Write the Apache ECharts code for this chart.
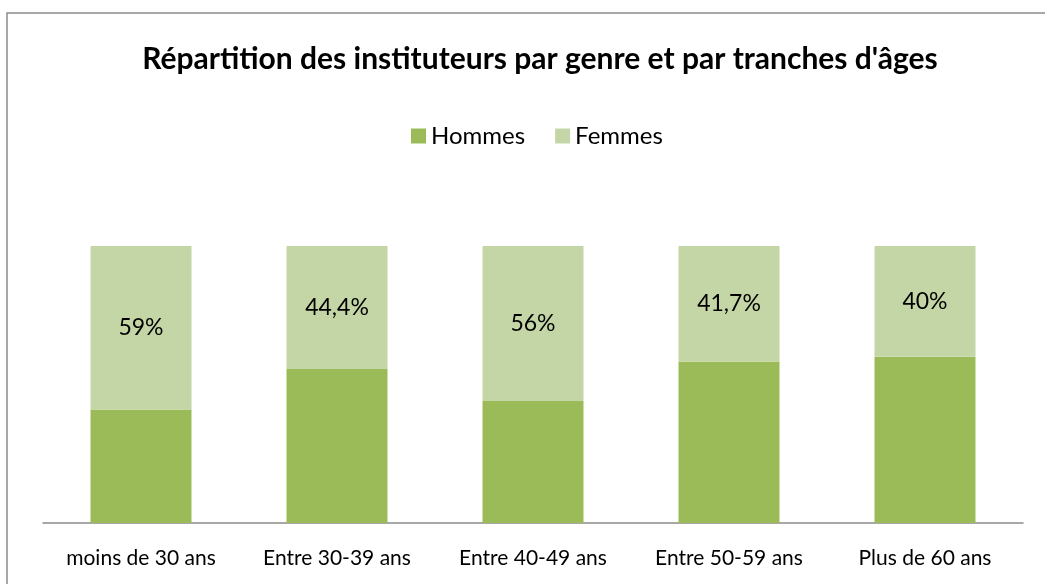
<!DOCTYPE html>
<html>
<head>
<meta charset="utf-8">
<script src="https://cdn.jsdelivr.net/npm/echarts@6/dist/echarts.min.js"></script>
<style>
  html, body { margin: 0; padding: 0; background: #fff; }
  #chart { width: 1045px; height: 584px; }
</style>
</head>
<body>
<div id="chart"></div>
<script>
// tranches d'âges
var categories = ['moins de 30 ans', 'Entre 30-39 ans', 'Entre 40-49 ans', 'Entre 50-59 ans', 'Plus de 60 ans']
var hommes = [41, 55.6, 44, 58.3, 60]
var femmes = [59, 44.4, 56, 41.7, 40]

var chart = echarts.init(document.getElementById('chart'))
chart.setOption({
  backgroundColor: '#fff',
  animation: false,
  textStyle: { fontFamily: 'Lato' },
  graphic: [{
    type: 'rect',
    shape: { x: 7, y: 13, width: 1100, height: 700 },
    style: { fill: 'none', stroke: '#8c8c8c', lineWidth: 1.5 },
    silent: true
  }],
  title: {
    text: "Répartition des instituteurs par genre et par tranches d'âges",
    left: 535,
    top: 39,
    textAlign: 'center',
    textStyle: { fontSize: 30, fontWeight: 'bold', color: '#000', fontFamily: 'Lato' }
  },
  legend: {
    top: 119,
    left: 406,
    itemWidth: 15,
    itemHeight: 15,
    itemGap: 30,
    icon: 'rect',
    textStyle: { fontSize: 24, color: '#000', fontFamily: 'Lato' },
    data: ['Hommes', 'Femmes']
  },
  grid: {
    left: 43,
    right: 22,
    top: 246,
    bottom: 61,
    containLabel: false
  },
  xAxis: {
    type: 'category',
    data: categories,
    axisLine: { lineStyle: { color: '#8c8c8c', width: 1.5 } },
    axisTick: { show: false },
    axisLabel: { fontSize: 21, color: '#000', margin: 25, interval: 0, fontFamily: 'Lato' }
  },
  yAxis: {
    type: 'value',
    min: 0,
    max: 100,
    show: false,
    splitLine: { show: false }
  },
  series: [{
    name: 'Hommes',
    type: 'bar',
    stack: 'total',
    barWidth: 101,
    itemStyle: { color: '#9bbb59' },
    data: hommes
  }, {
    name: 'Femmes',
    type: 'bar',
    stack: 'total',
    barWidth: 101,
    itemStyle: { color: '#c5d6a6' },
    label: {
      show: true,
      position: 'inside',
      fontSize: 23,
      color: '#000',
      fontFamily: 'Lato',
      formatter: function (p) {
        return String(p.value).replace('.', ',') + '%'
      }
    },
    data: femmes
  }]
})
</script>
</body>
</html>
